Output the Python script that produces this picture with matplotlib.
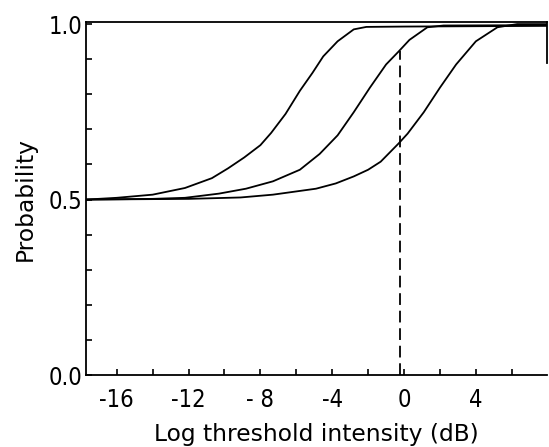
import matplotlib
matplotlib.use("Agg")
import matplotlib.pyplot as plt
from matplotlib.ticker import MultipleLocator

# Curve data (x in dB, y probability)
left_x = [-17.7, -16.0, -14.0, -12.2, -10.7, -9.8, -8.9, -8.0, -7.4, -6.6, -5.8, -5.1, -4.5, -3.7, -2.8, -2.1, 0.0, 4.0, 8.0]
left_y = [0.500, 0.505, 0.514, 0.533, 0.561, 0.589, 0.620, 0.655, 0.690, 0.744, 0.810, 0.861, 0.908, 0.951, 0.985, 0.992, 0.993, 0.994, 0.995]

mid_x = [-17.7, -14.0, -12.2, -10.3, -8.8, -7.3, -5.8, -4.7, -3.7, -2.8, -1.9, -1.0, -0.3, 0.3, 1.3, 2.2, 8.0]
mid_y = [0.500, 0.502, 0.505, 0.517, 0.531, 0.552, 0.585, 0.630, 0.683, 0.749, 0.819, 0.885, 0.922, 0.955, 0.991, 0.996, 0.997]

right_x = [-17.7, -12.0, -9.1, -7.3, -4.9, -3.8, -2.8, -2.0, -1.3, -0.3, 0.2, 1.1, 2.0, 2.9, 4.0, 5.2, 6.3, 8.0]
right_y = [0.500, 0.502, 0.506, 0.514, 0.531, 0.546, 0.566, 0.585, 0.608, 0.660, 0.688, 0.749, 0.819, 0.885, 0.951, 0.991, 1.000, 1.000]

threshold_x = -0.2
threshold_y = 0.922

x_ticks = [-16, -12, -8, -4, 0, 4]
x_ticklabels = ["-16", "-12", "- 8", "-4", "0", "4"]
y_ticks = [0.0, 0.5, 1.0]
y_ticklabels = ["0.0", "0.5", "1.0"]

fig = plt.figure(figsize=(5.49, 4.47), dpi=100)
ax = fig.add_axes([0.157, 0.161, 0.839, 0.789])

for xs, ys in [(left_x, left_y), (mid_x, mid_y), (right_x, right_y)]:
    ax.plot(xs, ys, color="black", lw=1.3, solid_joinstyle="round")

ax.plot([threshold_x, threshold_x], [0.0, threshold_y], color="black", lw=1.3,
        linestyle=(0, (6.5, 3.2)))

ax.set_xlim(-17.7, 7.95)
ax.set_ylim(0.0, 1.005)

ax.set_xticks(x_ticks)
ax.set_xticklabels(x_ticklabels, fontsize=17, family="DejaVu Sans", fontstretch="condensed")
ax.set_yticks(y_ticks)
ax.set_yticklabels(y_ticklabels, fontsize=17, family="DejaVu Sans", fontstretch="condensed")
ax.xaxis.set_minor_locator(MultipleLocator(2))
ax.yaxis.set_minor_locator(MultipleLocator(0.1))

ax.tick_params(which="both", direction="in", width=1.2, length=4)
ax.tick_params(axis="x", which="both", pad=9)
ax.tick_params(axis="y", which="both", pad=3)
ax.tick_params(top=False, right=False)

for s in ["left", "bottom", "top", "right"]:
    ax.spines[s].set_linewidth(1.3)
ax.spines["right"].set_bounds(0.89, 1.005)

ax.set_xlabel("Log threshold intensity (dB)", fontsize=16.8)
ax.set_ylabel("Probability", fontsize=16.8)
ax.xaxis.set_label_coords(0.5, -0.136)
ax.yaxis.set_label_coords(-0.108, 0.5)

fig.savefig("out.png", dpi=100)
